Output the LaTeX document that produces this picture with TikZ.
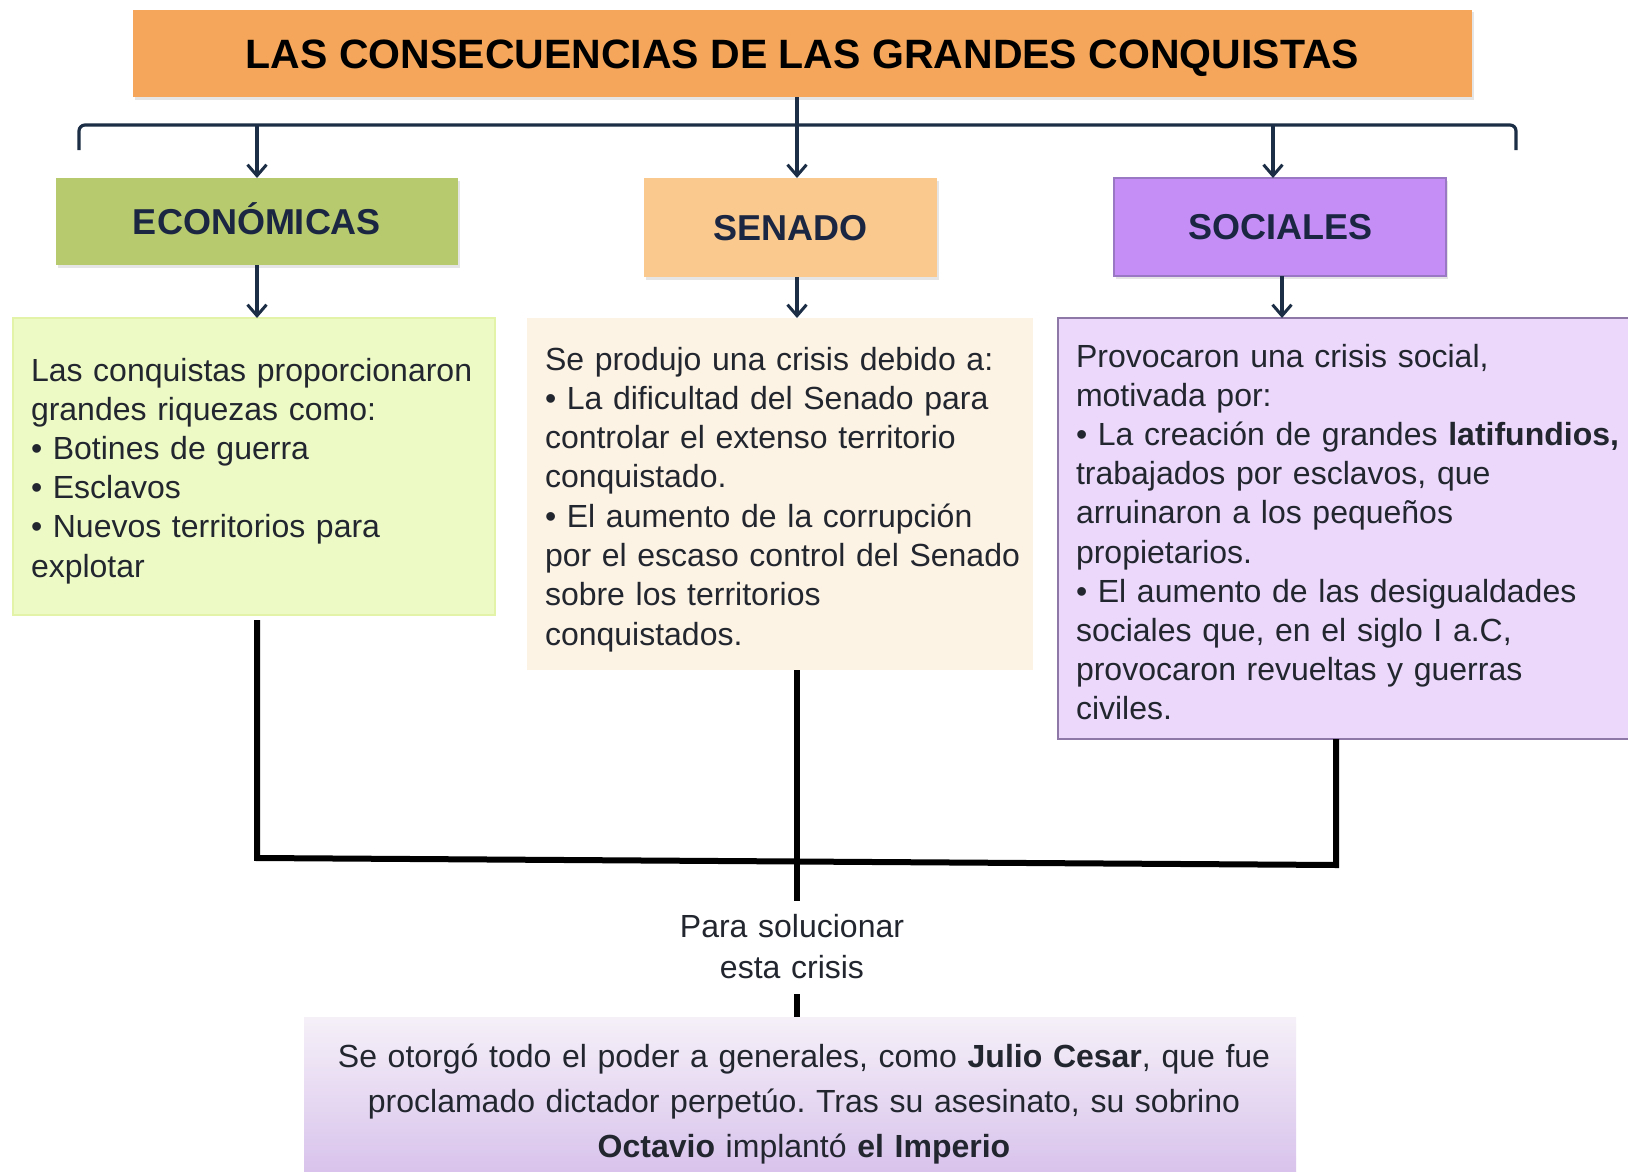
\documentclass[tikz,border=0pt]{standalone}
\usepackage{fontspec}
\setmainfont{Liberation Sans}
\usetikzlibrary{arrows.meta,shadows,calc}
\definecolor{navy}{HTML}{1C2E45}
\definecolor{titleor}{HTML}{F5A65B}
\definecolor{econg}{HTML}{B7CA6D}
\definecolor{senor}{HTML}{FAC98D}
\definecolor{socpu}{HTML}{C58EF6}
\definecolor{socbd}{HTML}{9A78C4}
\definecolor{econlt}{HTML}{EEFAC6}
\definecolor{econbd}{HTML}{E3F4A8}
\definecolor{senlt}{HTML}{FDF3E4}
\definecolor{soclt}{HTML}{EBD8FA}
\definecolor{soclbd}{HTML}{8E78A8}
\definecolor{bottop}{HTML}{F5F0F8}
\definecolor{botbot}{HTML}{D6BFEB}
\definecolor{txt}{HTML}{22262E}
\definecolor{lbl}{HTML}{1B2742}
\frenchspacing
\begin{document}
\begin{tikzpicture}[x=1pt,y=-1pt,
  box/.style={rectangle, inner sep=0pt, outer sep=0pt},
  shade/.style={drop shadow={opacity=0.2, shadow xshift=1.5pt, shadow yshift=-2.5pt}},
  navyline/.style={draw=navy, line width=3.2pt},
  navyarrow/.style={navyline, -{Straight Barb[length=11pt,width=19pt,line width=3pt]}},
  blackline/.style={draw=black, line width=6pt, line join=miter},
  body/.style={inner sep=0pt, outer sep=0pt, anchor=base west, align=left, text=txt},
  catlabel/.style={text=lbl, font=\fontsize{36}{40}\selectfont\bfseries, text height=25.8pt, text depth=0pt},
]
\useasboundingbox (0,0) rectangle (1628,1172);
\clip (0,0) rectangle (1628,1172);
\fill[white] (0,0) rectangle (1628,1172);

% title
\node[box, fill=titleor, shade, minimum width=1339pt, minimum height=87pt,
  font=\fontsize{41}{45}\selectfont\bfseries, text=black, text height=29.4pt, text depth=0pt]
  (title) at (802.5,53.5) {LAS CONSECUENCIAS DE LAS GRANDES CONQUISTAS};

% category boxes
\node[box, fill=econg, shade, minimum width=402pt, minimum height=87pt, catlabel]
  (econ) at (257,221.5) {ECONÓMICAS};
\node[box, fill=senor, shade, minimum width=293pt, minimum height=99pt, catlabel]
  (senado) at (790.5,227.5) {SENADO};
\node[box, fill=socpu, draw=socbd, line width=1.5pt, shade, minimum width=332pt, minimum height=98pt, catlabel]
  (soc) at (1280,227) {SOCIALES};

% text boxes
\node[box, fill=econlt, draw=econbd, line width=2pt, minimum width=482pt, minimum height=297pt]
  (econbox) at (254,466.5) {};
\node[box, fill=senlt, minimum width=506pt, minimum height=352pt]
  (senbox) at (780,494) {};
\node[box, fill=soclt, draw=soclbd, line width=2pt, minimum width=587pt, minimum height=421pt]
  (socbox) at (1351.5,528.5) {};
\node[box, top color=bottop, bottom color=botbot, minimum width=992pt, minimum height=168pt]
  (final) at (800,1101) {};

\node[body, text width=460pt, font=\fontsize{32}{39.2}\selectfont] (econtext) at (31,381)
  {Las conquistas proporcionaron\\grandes riquezas como:\\• Botines de guerra\\• Esclavos\\• Nuevos territorios para\\explotar};
\node[body, text width=485pt, font=\fontsize{32}{39.3}\selectfont] (sentext) at (545,370)
  {Se produjo una crisis debido a:\\• La dificultad del Senado para\\controlar el extenso territorio\\conquistado.\\• El aumento de la corrupción\\por el escaso control del Senado\\sobre los territorios\\conquistados.};
\node[body, text width=565pt, font=\fontsize{32}{39.2}\selectfont] (soctext) at (1076,367)
  {Provocaron una crisis social,\\motivada por:\\• La creación de grandes \textbf{latifundios,}\\trabajados por esclavos, que\\arruinaron a los pequeños\\propietarios.\\• El aumento de las desigualdades\\sociales que, en el siglo I a.C,\\provocaron revueltas y guerras\\civiles.};

\node[inner sep=0pt, anchor=base, text width=300pt, align=center, text=txt, font=\fontsize{32}{41}\selectfont]
  (para) at (792,937) {Para solucionar\\esta crisis};
\node[inner sep=0pt, anchor=base, text width=990pt, align=center, text=txt, font=\fontsize{32}{45}\selectfont]
  (finaltext) at (804,1067) {Se otorgó todo el poder a generales, como \textbf{Julio Cesar}, que fue\\proclamado dictador perpetúo. Tras su asesinato, su sobrino\\\textbf{Octavio} implantó \textbf{el Imperio}};

% navy bracket and arrows
\coordinate (top) at (797,125);
\coordinate (bl) at (79,150);
\coordinate (br) at (1516,150);
\coordinate (b1) at (257,125);
\coordinate (b3) at (1273,125);
\coordinate (cx) at (797,0);
\draw[navyline] (top |- title.south) -- (top);
\draw[navyline, rounded corners=6pt] (bl) -- (bl |- top) -- (br |- top) -- (br);
\draw[navyarrow] (b1) -- (b1 |- econ.north);
\draw[navyarrow] (top) -- (top |- senado.north);
\draw[navyarrow] (b3) -- (b3 |- soc.north);
\draw[navyarrow] (econ.south) -- (econ.south |- econbox.north);
\draw[navyarrow] (cx |- senado.south) -- (cx |- senbox.north);
\draw[navyarrow] ([xshift=2pt]soc.south) -- ([xshift=2pt]soc.south |- socbox.north);

% black connectors
\coordinate (jl) at (257,858);
\coordinate (jr) at (1336,865);
\coordinate (cend) at (797,901);
\coordinate (pb) at (797,994);
\draw[blackline, shorten <=5pt] (econbox.south -| jl) -- (jl) -- (jr) -- (jr |- socbox.south);
\draw[blackline] (cx |- senbox.south) -- (cend);
\draw[blackline] (pb) -- (pb |- final.north);
\end{tikzpicture}
\end{document}
